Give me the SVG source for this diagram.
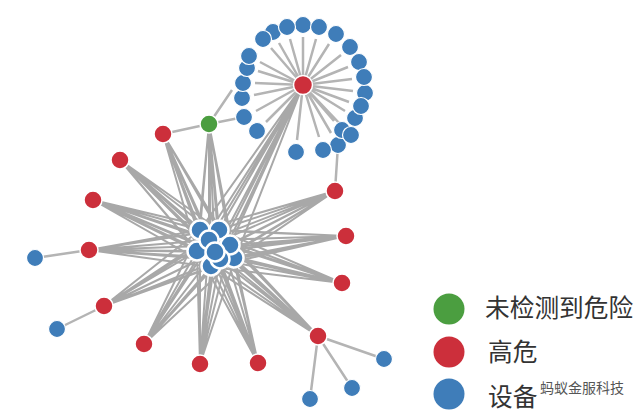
<svg xmlns="http://www.w3.org/2000/svg" width="640" height="416" viewBox="0 0 640 416">
<style>
.bg{fill:#fff}
.c path,.c line{stroke:#a8a8a8;stroke-width:2;fill:none}
.c .t{stroke-width:2.5;stroke:#b4b4b4}
.b{fill:#3f7db9;stroke:#fff;stroke-width:1.2}
.r{fill:#cc2f3b;stroke:#fff;stroke-width:1.5}
.g{fill:#4b9e40;stroke:#fff;stroke-width:1.5}
.k{fill:#3f7db9;stroke:#fff;stroke-width:2.5}
text{font-family:"Noto Sans CJK SC","Liberation Sans",sans-serif;fill:#333;font-size:24.7px}
.w{font-size:14px;fill:#555;stroke:#fff;stroke-width:2.5px;paint-order:stroke}
</style>
<rect class="bg" width="640" height="416"/>
<g id="connectors" class="c">
<path id="star-hub" d="M303 85L200 230M303 85L219 230M303 85L209 240M303 85L230 245M303 85L197 251M303 85L215 252M303 85L235 259M303 85L211 267M303 85L220 260"/>
<path d="M209 124L200 230M209 124L219 230M209 124L209 240M209 124L230 245M209 124L197 251M209 124L215 252M209 124L235 259M209 124L211 267M209 124L220 260"/>
<path d="M163 134L200 230M163 134L219 230M163 134L209 240M163 134L230 245M163 134L197 251M163 134L215 252M163 134L235 259M163 134L211 267M163 134L220 260"/>
<path d="M120 160L200 230M120 160L219 230M120 160L209 240M120 160L230 245M120 160L197 251M120 160L215 252M120 160L235 259M120 160L211 267M120 160L220 260"/>
<path d="M93 200L200 230M93 200L219 230M93 200L209 240M93 200L230 245M93 200L197 251M93 200L215 252M93 200L235 259M93 200L211 267M93 200L220 260"/>
<path d="M89 250L200 230M89 250L219 230M89 250L209 240M89 250L230 245M89 250L197 251M89 250L215 252M89 250L235 259M89 250L211 267M89 250L220 260"/>
<path d="M104 306L200 230M104 306L219 230M104 306L209 240M104 306L230 245M104 306L197 251M104 306L215 252M104 306L235 259M104 306L211 267M104 306L220 260"/>
<path d="M144 344L200 230M144 344L219 230M144 344L209 240M144 344L230 245M144 344L197 251M144 344L215 252M144 344L235 259M144 344L211 267M144 344L220 260"/>
<path d="M200 364L200 230M200 364L219 230M200 364L209 240M200 364L230 245M200 364L197 251M200 364L215 252M200 364L235 259M200 364L211 267M200 364L220 260"/>
<path d="M258 363L200 230M258 363L219 230M258 363L209 240M258 363L230 245M258 363L197 251M258 363L215 252M258 363L235 259M258 363L211 267M258 363L220 260"/>
<path d="M318 336L200 230M318 336L219 230M318 336L209 240M318 336L230 245M318 336L197 251M318 336L215 252M318 336L235 259M318 336L211 267M318 336L220 260"/>
<path d="M342 283L200 230M342 283L219 230M342 283L209 240M342 283L230 245M342 283L197 251M342 283L215 252M342 283L235 259M342 283L211 267M342 283L220 260"/>
<path d="M346 236L200 230M346 236L219 230M346 236L209 240M346 236L230 245M346 236L197 251M346 236L215 252M346 236L235 259M346 236L211 267M346 236L220 260"/>
<path d="M335 191L200 230M335 191L219 230M335 191L209 240M335 191L230 245M335 191L197 251M335 191L215 252M335 191L235 259M335 191L211 267M335 191L220 260"/>
<path class="t" d="M303 85L266 122M303 85L256 111M303 85L254 95M303 85L255 83M303 85L258 71M303 85L260 62M303 85L271 48M303 85L279 43M303 85L290 39M303 85L303 37M303 85L316 39M303 85L329 44M303 85L341 55M303 85L348 67M303 85L352 79M303 85L353 91M303 85L349 102M303 85L345 111M303 85L341 125M303 85L334 121M303 85L331 133M303 85L319 137M303 85L297 140"/>
<path class="t" d="M163 134L209 124M209 124L244 117M209 124L232 90M338 145L335 191M35 258L89 250M57 329L104 306M318 336L384 359M318 336L352 388M318 336L310 399"/>
</g>
<g id="cluster">
<g id="d1"><circle class="k" cx="200" cy="230" r="9.5"/></g>
<g id="d2"><circle class="k" cx="219" cy="230" r="9.5"/></g>
<g id="d3"><circle class="k" cx="234" cy="258" r="9.5"/></g>
<g id="d4"><circle class="k" cx="230" cy="245" r="9.5"/></g>
<g id="d5"><circle class="k" cx="197" cy="251" r="9.5"/></g>
<g id="d6"><circle class="k" cx="211" cy="266" r="9.5"/></g>
<g id="d7"><circle class="k" cx="220" cy="259" r="9.5"/></g>
<g id="d8"><circle class="k" cx="209" cy="240" r="9.5"/></g>
<g id="d9"><circle class="k" cx="215" cy="252" r="9.5"/></g>
</g>
<g id="ring">
<g id="e1"><circle class="b" cx="257" cy="131" r="8.5"/></g>
<g id="e2"><circle class="b" cx="244" cy="117" r="8.5"/></g>
<g id="e3"><circle class="b" cx="242" cy="98" r="8.5"/></g>
<g id="e4"><circle class="b" cx="243" cy="83" r="8.5"/></g>
<g id="e5"><circle class="b" cx="247" cy="68" r="8.5"/></g>
<g id="e6"><circle class="b" cx="249" cy="56" r="8.5"/></g>
<g id="e7"><circle class="b" cx="273" cy="32" r="8.5"/></g>
<g id="e8"><circle class="b" cx="263" cy="39" r="8.5"/></g>
<g id="e9"><circle class="b" cx="303" cy="25" r="8.5"/></g>
<g id="e10"><circle class="b" cx="319" cy="27" r="8.5"/></g>
<g id="e11"><circle class="b" cx="287" cy="27" r="8.5"/></g>
<g id="e12"><circle class="b" cx="336" cy="34" r="8.5"/></g>
<g id="e13"><circle class="b" cx="350" cy="47" r="8.5"/></g>
<g id="e14"><circle class="b" cx="359" cy="62" r="8.5"/></g>
<g id="e15"><circle class="b" cx="365" cy="93" r="8.5"/></g>
<g id="e16"><circle class="b" cx="364" cy="77" r="8.5"/></g>
<g id="e17"><circle class="b" cx="355" cy="118" r="8.5"/></g>
<g id="e18"><circle class="b" cx="361" cy="106" r="8.5"/></g>
<g id="e19"><circle class="b" cx="338" cy="145" r="8.5"/></g>
<g id="e20"><circle class="b" cx="342" cy="130" r="8.5"/></g>
<g id="e21"><circle class="b" cx="351" cy="135" r="8.5"/></g>
<g id="e22"><circle class="b" cx="323" cy="150" r="8.5"/></g>
<g id="e23"><circle class="b" cx="296" cy="152" r="8.5"/></g>
</g>
<g id="hub"><circle class="r" cx="303" cy="85" r="9.5"/></g>
<g id="green"><circle class="g" cx="209" cy="124" r="9"/></g>
<g id="reds">
<g id="r1"><circle class="r" cx="163" cy="134" r="9"/></g>
<g id="r2"><circle class="r" cx="120" cy="160" r="9"/></g>
<g id="r3"><circle class="r" cx="93" cy="200" r="9"/></g>
<g id="r4"><circle class="r" cx="89" cy="250" r="9"/></g>
<g id="r5"><circle class="r" cx="104" cy="306" r="9"/></g>
<g id="r6"><circle class="r" cx="144" cy="344" r="9"/></g>
<g id="r7"><circle class="r" cx="200" cy="364" r="9"/></g>
<g id="r8"><circle class="r" cx="258" cy="363" r="9"/></g>
<g id="r9"><circle class="r" cx="318" cy="336" r="9"/></g>
<g id="r10"><circle class="r" cx="342" cy="283" r="9"/></g>
<g id="r11"><circle class="r" cx="346" cy="236" r="9"/></g>
<g id="r12"><circle class="r" cx="335" cy="191" r="9"/></g>
</g>
<g id="leaves">
<g id="l1"><circle class="b" cx="35" cy="258" r="8.5"/></g>
<g id="l2"><circle class="b" cx="57" cy="329" r="8.5"/></g>
<g id="l3"><circle class="b" cx="384" cy="359" r="8.5"/></g>
<g id="l4"><circle class="b" cx="352" cy="388" r="8.5"/></g>
<g id="l5"><circle class="b" cx="310" cy="399" r="8.5"/></g>
</g>
<g id="legend">
<circle cx="449" cy="309" r="15.5" fill="#4b9e40"/>
<circle cx="449" cy="352" r="15.5" fill="#cc2f3b"/>
<circle cx="449" cy="394" r="15.5" fill="#3f7db9"/>
<text x="485" y="317">未检测到危险</text>
<text x="488" y="361">高危</text>
<text x="488" y="406">设备</text>
<text class="w" x="540" y="393">蚂蚁金服科技</text>
</g>
</svg>
